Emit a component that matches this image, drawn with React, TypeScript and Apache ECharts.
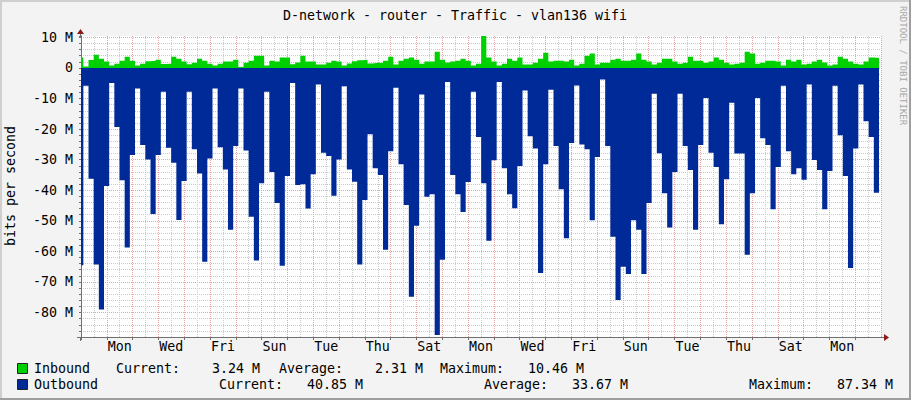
import React, { useEffect, useRef } from 'react';
import * as echarts from 'echarts';

const TITLE = 'D-network - router - Traffic - vlan136 wifi';
const Y_TITLE = 'bits per second';
const WATERMARK = 'RRDTOOL / TOBI OETIKER';
const DAY_NAMES = ['Sun', 'Mon', 'Tue', 'Wed', 'Thu', 'Fri', 'Sat'];

// time axis in hours from Sunday 00:00; samples every STEP_HOURS
const SPAN_HOURS = 744;
const STEP_HOURS = 4.805;
const FIRST_STEP_START = -2.635;

// Mbit/s per sample
const INBOUND = [
  3.4, 0.5, 2.6, 4.3, 3.0, 2.1, 0.8, 1.4, 2.4, 3.7,
  2.4, 0.8, 1.4, 2.2, 2.4, 2.7, 1.3, 1.4, 3.7, 3.0,
  2.1, 1.2, 1.7, 3.0, 2.4, 1.4, 0.8, 1.4, 2.1, 2.1,
  2.7, 0.3, 1.7, 2.4, 4.0, 4.0, 0.8, 2.4, 2.1, 3.4,
  3.4, 1.2, 1.8, 4.0, 2.1, 2.1, 1.1, 1.1, 1.7, 2.4,
  2.1, 0.8, 1.5, 2.2, 2.5, 2.7, 1.5, 1.7, 1.7, 2.4,
  3.7, 1.1, 2.4, 3.0, 3.4, 2.7, 1.4, 2.1, 2.1, 5.3,
  2.7, 1.8, 2.1, 2.4, 3.0, 2.4, 0.8, 1.4, 10.46, 3.4,
  2.1, 0.8, 1.4, 3.0, 2.4, 3.4, 1.1, 1.1, 1.7, 3.0,
  5.0, 2.1, 2.4, 2.4, 2.1, 2.7, 0.8, 1.4, 4.0, 4.7,
  1.1, 1.7, 1.7, 2.7, 3.0, 2.4, 2.4, 2.7, 4.7, 2.7,
  2.1, 1.1, 1.7, 3.0, 3.0, 2.1, 1.4, 1.7, 3.7, 2.4,
  2.4, 1.7, 2.1, 3.4, 2.7, 1.7, 1.1, 1.4, 1.7, 5.3,
  4.7, 1.4, 1.7, 2.4, 2.4, 2.1, 0.8, 2.7, 2.1, 2.7,
  1.1, 1.4, 2.1, 2.7, 1.8, 0.8, 1.1, 3.7, 3.0, 2.1,
  1.4, 1.1, 2.1, 3.4, 3.24,
];

const OUTBOUND = [
  64.5, 5.8, 36.2, 64.3, 79.0, 38.6, 4.9, 19.3, 36.7, 58.7,
  28.5, 6.7, 25.2, 29.9, 47.8, 28.5, 7.8, 26.1, 31.0, 49.7,
  37.0, 7.8, 26.6, 34.5, 63.4, 29.6, 6.7, 25.9, 33.2, 52.9,
  25.5, 6.7, 27.0, 48.7, 63.0, 37.7, 7.8, 34.0, 44.2, 64.7,
  35.3, 4.9, 38.3, 38.0, 46.0, 34.8, 5.4, 27.7, 28.8, 41.8,
  29.9, 6.0, 33.2, 37.2, 64.3, 43.2, 21.7, 32.8, 35.0, 59.5,
  27.2, 6.5, 31.5, 44.8, 74.8, 51.6, 8.7, 42.1, 41.3, 87.34,
  62.7, 4.6, 35.0, 41.3, 47.1, 37.3, 7.8, 22.6, 37.7, 56.5,
  30.2, 4.6, 32.8, 41.3, 45.9, 32.1, 7.4, 22.3, 26.3, 67.1,
  31.5, 7.1, 25.5, 39.7, 55.7, 24.5, 5.7, 25.0, 26.6, 49.8,
  29.1, 3.8, 25.5, 55.2, 75.9, 65.0, 67.4, 49.8, 52.9, 67.4,
  44.2, 8.4, 27.9, 41.0, 52.2, 34.0, 8.4, 25.5, 33.4, 52.9,
  25.2, 9.8, 27.7, 32.4, 51.1, 36.4, 11.4, 28.0, 28.0, 61.1,
  41.0, 9.8, 23.0, 25.2, 46.2, 32.4, 5.8, 27.2, 34.8, 32.8,
  36.6, 5.4, 30.1, 33.4, 46.2, 33.7, 5.8, 22.0, 35.3, 65.4,
  26.3, 5.4, 17.4, 22.6, 40.85,
];

const SERIES_NAMES = ['Inbound', 'Outbound'];
const STAT_LABELS = ['Current:', 'Average:', 'Maximum:'];
const INBOUND_STATS = [3.24, 2.31, 10.46];
const OUTBOUND_STATS = [40.85, 33.67, 87.34];

const Y_MIN = -88;
const Y_MAX = 10.46;

const IN_COLOR = '#00CF00';
const OUT_COLOR = '#002A97';
const MAJOR_GRID = '#EDA2A2';
const MINOR_GRID = '#CACACA';
const AXIS_COLOR = '#707070';
const ARROW_COLOR = '#8B1A1A';
const FONT = '"DejaVu Sans Mono", monospace';
const FS = 13.3;
const PLOT_W = 800;

function toSteps(vals: number[], sign: number): number[][] {
  const pts = vals.map((v, i) => [FIRST_STEP_START + i * STEP_HOURS, sign * v]);
  pts.push([FIRST_STEP_START + vals.length * STEP_HOURS, sign * vals[vals.length - 1]]);
  return pts;
}

function statText(label: string, v: number): string {
  return label + v.toFixed(2).padStart(8, ' ') + ' M';
}

export default function App() {
  const ref = useRef<HTMLDivElement>(null);

  useEffect(() => {
    if (!ref.current) return;
    const chart = echarts.init(ref.current, undefined, { renderer: 'svg' });

    const txt = (x: number, y: number, text: string, extra: any = {}) => ({
      type: 'text',
      x,
      y,
      silent: true,
      style: {
        text,
        fontFamily: FONT,
        fontSize: FS,
        fill: '#000',
        textAlign: 'left',
        verticalAlign: 'middle',
        ...extra,
      },
    });

    const inX = [116, 279, 440];
    const outX = [219, 484, 749];
    // day labels are centred at noon: shift by half a day in pixels
    const halfDayPx = (PLOT_W / SPAN_HOURS) * 12;

    const graphic: any[] = [
      // frame
      { type: 'rect', shape: { x: 0, y: 0, width: 911, height: 2 }, style: { fill: '#CFCFCF' }, silent: true },
      { type: 'rect', shape: { x: 0, y: 0, width: 2, height: 400 }, style: { fill: '#CFCFCF' }, silent: true },
      { type: 'rect', shape: { x: 0, y: 398, width: 911, height: 2 }, style: { fill: '#9E9E9E' }, silent: true },
      { type: 'rect', shape: { x: 909, y: 0, width: 2, height: 400 }, style: { fill: '#9E9E9E' }, silent: true },
      // title
      txt(455, 15, TITLE, { textAlign: 'center' }),
      // y title
      {
        type: 'text', x: 10, y: 186, rotation: Math.PI / 2, silent: true,
        style: { text: Y_TITLE, fontFamily: FONT, fontSize: FS, fill: '#000', textAlign: 'center', verticalAlign: 'middle' },
      },
      // watermark
      {
        type: 'text', x: 903, y: 6, rotation: -Math.PI / 2, silent: true,
        style: { text: WATERMARK, fontFamily: FONT, fontSize: 9, fill: '#A8A8A8', textAlign: 'left', verticalAlign: 'middle' },
      },
      // axis extensions and arrows
      { type: 'line', shape: { x1: 77, y1: 337.5, x2: 81, y2: 337.5 }, style: { stroke: AXIS_COLOR, lineWidth: 1 }, silent: true },
      { type: 'line', shape: { x1: 881, y1: 337.5, x2: 885, y2: 337.5 }, style: { stroke: AXIS_COLOR, lineWidth: 1 }, silent: true },
      { type: 'line', shape: { x1: 80.5, y1: 337, x2: 80.5, y2: 341 }, style: { stroke: AXIS_COLOR, lineWidth: 1 }, silent: true },
      { type: 'line', shape: { x1: 80.5, y1: 36, x2: 80.5, y2: 32 }, style: { stroke: AXIS_COLOR, lineWidth: 1 }, silent: true },
      { type: 'polygon', shape: { points: [[884, 334], [884, 341], [889, 337.5]] }, style: { fill: ARROW_COLOR }, silent: true },
      { type: 'polygon', shape: { points: [[77, 34], [84, 34], [80.5, 29]] }, style: { fill: ARROW_COLOR }, silent: true },
      // legend boxes
      { type: 'rect', shape: { x: 17.5, y: 363.5, width: 10, height: 10 }, style: { fill: IN_COLOR, stroke: '#222', lineWidth: 1 }, silent: true },
      { type: 'rect', shape: { x: 17.5, y: 379.5, width: 10, height: 10 }, style: { fill: OUT_COLOR, stroke: '#222', lineWidth: 1 }, silent: true },
      txt(34, 368.5, SERIES_NAMES[0]),
      txt(34, 384.5, SERIES_NAMES[1]),
      ...STAT_LABELS.map((l, i) => txt(inX[i], 368.5, statText(l, INBOUND_STATS[i]))),
      ...STAT_LABELS.map((l, i) => txt(outX[i], 384.5, statText(l, OUTBOUND_STATS[i]))),
    ];

    const option: any = {
      animation: false,
      backgroundColor: '#F3F3F3',
      grid: {
        left: 81, top: 36, width: PLOT_W, height: 301,
        show: true, backgroundColor: '#FFFFFF', borderWidth: 0,
      },
      xAxis: {
        type: 'value',
        min: 0,
        max: SPAN_HOURS,
        interval: 24,
        axisLine: { show: true, onZero: false, lineStyle: { color: AXIS_COLOR, width: 1 } },
        axisTick: { show: true, length: 3, lineStyle: { color: AXIS_COLOR } },
        minorTick: { show: false, splitNumber: 2 },
        minorSplitLine: { show: true, lineStyle: { color: MINOR_GRID, type: 'dotted', width: 1 } },
        axisLabel: {
          show: true,
          margin: 3,
          fontFamily: FONT,
          fontSize: FS,
          color: '#000',
          padding: [0, 0, 0, halfDayPx * 2],
          showMinLabel: true,
          showMaxLabel: false,
          formatter: (v: number) => {
            const r = Math.round(v);
            if (r >= SPAN_HOURS) return '';
            return r % 48 === 24 ? DAY_NAMES[Math.floor(r / 24) % 7] : '';
          },
        },
        splitLine: { show: true, lineStyle: { color: MAJOR_GRID, type: 'dotted', width: 1 } },
      },
      yAxis: {
        type: 'value',
        min: Y_MIN,
        max: Y_MAX,
        interval: 2,
        axisLine: { show: true, onZero: false, lineStyle: { color: AXIS_COLOR, width: 1 } },
        axisTick: { show: true, length: 2, lineStyle: { color: AXIS_COLOR } },
        axisLabel: {
          margin: 8,
          fontFamily: FONT,
          fontSize: FS,
          color: '#000',
          formatter: (v: number) => {
            const r = Math.round(v * 100) / 100;
            if (r === 0) return '0';
            return r % 10 === 0 ? `${r} M` : '';
          },
        },
        splitLine: {
          show: true,
          showMaxLine: false,
          lineStyle: { color: [MINOR_GRID, MINOR_GRID, MINOR_GRID, MINOR_GRID, MAJOR_GRID], type: 'dotted', width: 1 },
        },
      },
      series: [
        {
          name: SERIES_NAMES[1],
          type: 'line',
          step: 'end',
          data: toSteps(OUTBOUND, -1),
          showSymbol: false,
          symbol: 'none',
          lineStyle: { width: 0, color: OUT_COLOR },
          areaStyle: { color: OUT_COLOR, opacity: 1 },
          silent: true,
        },
        {
          name: SERIES_NAMES[0],
          type: 'line',
          step: 'end',
          data: toSteps(INBOUND, 1),
          showSymbol: false,
          symbol: 'none',
          lineStyle: { width: 0, color: IN_COLOR },
          areaStyle: { color: IN_COLOR, opacity: 1 },
          silent: true,
        },
      ],
      graphic,
    };

    chart.setOption(option);
    return () => chart.dispose();
  }, []);

  return (
    <div
      ref={ref}
      style={{ position: 'fixed', left: 0, top: 0, width: 911, height: 400 }}
    />
  );
}
